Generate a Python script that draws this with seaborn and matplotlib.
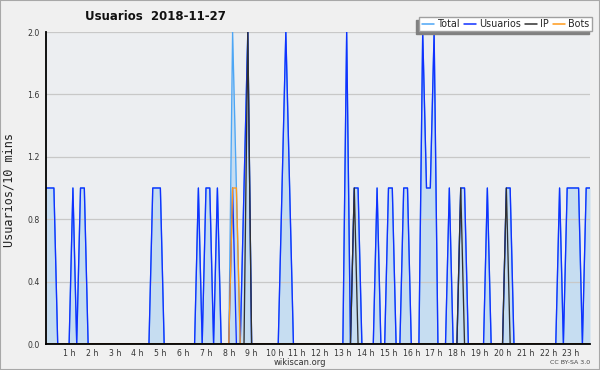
import matplotlib
matplotlib.use("Agg")
import matplotlib.pyplot as plt
import seaborn as sns
import pandas as pd
from matplotlib.ticker import MultipleLocator, FixedLocator, FixedFormatter
from matplotlib.patches import Rectangle
from matplotlib.lines import Line2D

# ---- data: one row per hour, six 10-minute slots each ----
usuarios_by_hour = [
    [1, 1, 1, 0, 0, 0],  # 0 h
    [0, 1, 0, 1, 1, 0],  # 1 h
    [0, 0, 0, 0, 0, 0],  # 2 h
    [0, 0, 0, 0, 0, 0],  # 3 h
    [0, 0, 0, 0, 1, 1],  # 4 h
    [1, 0, 0, 0, 0, 0],  # 5 h
    [0, 0, 0, 0, 1, 0],  # 6 h
    [1, 1, 0, 1, 0, 0],  # 7 h
    [0, 1, 0, 0, 1, 2],  # 8 h
    [0, 0, 0, 0, 0, 0],  # 9 h
    [0, 0, 1, 2, 1, 0],  # 10 h
    [0, 0, 0, 0, 0, 0],  # 11 h
    [0, 0, 0, 0, 0, 0],  # 12 h
    [0, 2, 0, 1, 1, 0],  # 13 h
    [0, 0, 0, 1, 0, 0],  # 14 h
    [1, 1, 0, 0, 1, 1],  # 15 h
    [0, 0, 0, 2, 1, 1],  # 16 h
    [2, 0, 0, 0, 1, 0],  # 17 h
    [0, 1, 1, 0, 0, 0],  # 18 h
    [0, 0, 1, 0, 0, 0],  # 19 h
    [0, 1, 1, 0, 0, 0],  # 20 h
    [0, 0, 0, 0, 0, 0],  # 21 h
    [0, 0, 0, 1, 0, 1],  # 22 h
    [1, 1, 1, 0, 1, 1],  # 23 h
]
total_by_hour = [
    [1, 1, 1, 0, 0, 0],
    [0, 1, 0, 1, 1, 0],
    [0, 0, 0, 0, 0, 0],
    [0, 0, 0, 0, 0, 0],
    [0, 0, 0, 0, 1, 1],
    [1, 0, 0, 0, 0, 0],
    [0, 0, 0, 0, 1, 0],
    [1, 1, 0, 1, 0, 0],
    [0, 2, 1, 0, 1, 2],
    [0, 0, 0, 0, 0, 0],
    [0, 0, 1, 2, 1, 0],
    [0, 0, 0, 0, 0, 0],
    [0, 0, 0, 0, 0, 0],
    [0, 2, 0, 1, 1, 0],
    [0, 0, 0, 1, 0, 0],
    [1, 1, 0, 0, 1, 1],
    [0, 0, 0, 2, 1, 1],
    [2, 0, 0, 0, 1, 0],
    [0, 1, 1, 0, 0, 0],
    [0, 0, 1, 0, 0, 0],
    [0, 1, 1, 0, 0, 0],
    [0, 0, 0, 0, 0, 0],
    [0, 0, 0, 1, 0, 1],
    [1, 1, 1, 0, 1, 1],
]
ip_by_hour = [
    [0, 0, 0, 0, 0, 0], [0, 0, 0, 0, 0, 0], [0, 0, 0, 0, 0, 0], [0, 0, 0, 0, 0, 0],
    [0, 0, 0, 0, 0, 0], [0, 0, 0, 0, 0, 0], [0, 0, 0, 0, 0, 0], [0, 0, 0, 0, 0, 0],
    [0, 0, 0, 0, 0, 2], [0, 0, 0, 0, 0, 0], [0, 0, 0, 0, 0, 0], [0, 0, 0, 0, 0, 0],
    [0, 0, 0, 0, 0, 0], [0, 0, 0, 1, 0, 0], [0, 0, 0, 0, 0, 0], [0, 0, 0, 0, 0, 0],
    [0, 0, 0, 0, 0, 0], [0, 0, 0, 0, 0, 0], [0, 1, 0, 0, 0, 0], [0, 0, 0, 0, 0, 0],
    [0, 1, 0, 0, 0, 0], [0, 0, 0, 0, 0, 0], [0, 0, 0, 0, 0, 0], [0, 0, 0, 0, 0, 0],
]
bots_by_hour = [
    [0, 0, 0, 0, 0, 0], [0, 0, 0, 0, 0, 0], [0, 0, 0, 0, 0, 0], [0, 0, 0, 0, 0, 0],
    [0, 0, 0, 0, 0, 0], [0, 0, 0, 0, 0, 0], [0, 0, 0, 0, 0, 0], [0, 0, 0, 0, 0, 0],
    [0, 1, 1, 0, 0, 0], [0, 0, 0, 0, 0, 0], [0, 0, 0, 0, 0, 0], [0, 0, 0, 0, 0, 0],
    [0, 0, 0, 0, 0, 0], [0, 0, 0, 0, 0, 0], [0, 0, 0, 0, 0, 0], [0, 0, 0, 0, 0, 0],
    [0, 0, 0, 0, 0, 0], [0, 0, 0, 0, 0, 0], [0, 0, 0, 0, 0, 0], [0, 0, 0, 0, 0, 0],
    [0, 0, 0, 0, 0, 0], [0, 0, 0, 0, 0, 0], [0, 0, 0, 0, 0, 0], [0, 0, 0, 0, 0, 0],
]
hour_labels = [f"{h} h" for h in range(1, 24)]
y_tick_labels = ["0.0", "0.4", "0.8", "1.2", "1.6", "2.0"]
series_names = ["Total", "Usuarios", "IP", "Bots"]
series_colors = ["#4da6f5", "#1030ff", "#303030", "#ff9a1a"]

slot = [h + k / 6 for h in range(24) for k in range(6)]
df = pd.DataFrame({
    "t": slot,
    "Total": [v for r in total_by_hour for v in r],
    "Usuarios": [v for r in usuarios_by_hour for v in r],
    "IP": [v for r in ip_by_hour for v in r],
    "Bots": [v for r in bots_by_hour for v in r],
})

sns.set_style("white")
plt.rcParams["font.family"] = ["DejaVu Sans"]

fig = plt.figure(figsize=(6, 3.7), dpi=100, facecolor="#f0f0f0")
ax = fig.add_axes([46.3 / 600, 26 / 370, 543.7 / 600, 312 / 370])
ax.set_facecolor("#eceef1")
ax.set_axisbelow(True)

ax.fill_between(df["t"], df["Total"], 0, color="#c6ddf1", lw=0, zorder=0.3)
for name, col in zip(series_names, series_colors):
    sns.lineplot(data=df, x="t", y=name, ax=ax, color=col, lw=0.95,
                 legend=False, zorder=2)

ax.set_xlim(0, 143 / 6)
ax.set_ylim(0, 2.0)
ax.set_xlabel("")
ax.set_ylabel("")

ax.yaxis.set_major_locator(FixedLocator([0, 0.4, 0.8, 1.2, 1.6, 2.0]))
ax.yaxis.set_major_formatter(FixedFormatter(y_tick_labels))
ax.yaxis.set_minor_locator(MultipleLocator(0.1))
ax.xaxis.set_major_locator(FixedLocator(list(range(1, 24))))
ax.xaxis.set_major_formatter(FixedFormatter(hour_labels))
ax.xaxis.set_minor_locator(MultipleLocator(1 / 6))

ax.grid(axis="y", color="#c8c8c8", lw=0.9)
ax.grid(axis="x", visible=False)
ax.tick_params(axis="both", which="both", direction="out", color="black",
               width=1.0, labelsize=5.6, labelcolor="#333333")
ax.tick_params(axis="x", which="both", length=3.2, pad=0.6)
ax.tick_params(axis="y", which="both", length=3.5, pad=1.2)

for s in ["top", "right"]:
    ax.spines[s].set_visible(False)
for s in ["left", "bottom"]:
    ax.spines[s].set_color("black")
    ax.spines[s].set_linewidth(1.3)
    ax.spines[s].set_zorder(5)

handles = [Line2D([], [], color=c, lw=1.1) for c in series_colors]
fig.legend(handles, series_names, loc="upper right",
           bbox_to_anchor=(592 / 600, 1 - 16.5 / 370), ncol=4, fontsize=6.9,
           frameon=True, fancybox=False, edgecolor="#a0a0a0", framealpha=1,
           facecolor="white", handlelength=1.3, handletextpad=0.35,
           columnspacing=0.35, borderpad=0.25, borderaxespad=0,
           shadow={"ox": -2.2, "oy": -2.2, "facecolor": "#808080",
                   "edgecolor": "#808080", "alpha": 1})

fig.text(85 / 600, 1 - 17 / 370, "Usuarios  2018-11-27", fontsize=8.5,
         fontweight="bold", ha="left", va="center", color="#111111")
fig.text(9 / 600, 1 - 190 / 370, "Usuarios/10 mins", rotation=90,
         family="DejaVu Sans Mono", fontsize=8.6, ha="center", va="center",
         color="#222222")
fig.text(300 / 600, 1 - 362.5 / 370, "wikiscan.org", fontsize=6,
         ha="center", va="center", color="#333333")
fig.text(590 / 600, 1 - 363 / 370, "CC BY-SA 3.0", fontsize=4.5,
         ha="right", va="center", color="#444444")

fig.patches.append(Rectangle((0, 0), 1, 1, transform=fig.transFigure,
                             fill=False, edgecolor="#a8a8a8", lw=1.5))

fig.savefig("out.png", dpi=100, facecolor=fig.get_facecolor())
